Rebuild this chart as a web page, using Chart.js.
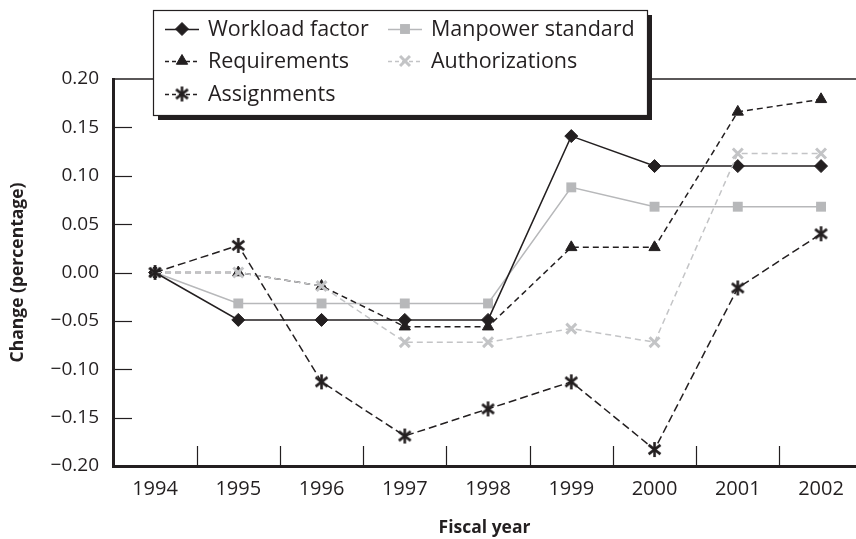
<!DOCTYPE html>
<html><head><meta charset="utf-8">
<script src="https://cdn.jsdelivr.net/npm/chart.js@4/dist/chart.umd.min.js"></script>
<style>html,body{margin:0;padding:0;background:#fff;overflow:hidden}canvas{display:block}</style>
</head><body>
<canvas id="c" width="856" height="539"></canvas>
<script>
const years = [1994, 1995, 1996, 1997, 1998, 1999, 2000, 2001, 2002];
const workloadFactor   = [0, -0.049, -0.049, -0.049, -0.049, 0.141, 0.110, 0.110, 0.110];
const manpowerStandard = [0, -0.032, -0.032, -0.032, -0.032, 0.088, 0.068, 0.068, 0.068];
const requirements     = [0, 0.000, -0.014, -0.056, -0.056, 0.026, 0.026, 0.166, 0.179];
const authorizations   = [0, 0.000, -0.014, -0.072, -0.072, -0.058, -0.072, 0.123, 0.123];
const assignments      = [0, 0.028, -0.113, -0.169, -0.141, -0.113, -0.183, -0.016, 0.040];
const yTicks = [-0.20, -0.15, -0.10, -0.05, 0.00, 0.05, 0.10, 0.15, 0.20];
const seriesNames = ['Workload factor', 'Manpower standard', 'Requirements', 'Authorizations', 'Assignments'];

const INK = '#231f20';
const GRAY = '#b7b8ba';
const LGRAY = '#c3c4c6';
const FONT = '"Open Sans", "Noto Sans", sans-serif';

// six-armed asterisk marker used as a Chart.js point style image
function makeAsterisk() {
  const c = document.createElement('canvas');
  c.width = 17; c.height = 17;
  const g = c.getContext('2d');
  g.strokeStyle = INK; g.lineWidth = 2.6; g.lineCap = 'butt';
  const cx = 8.5, cy = 8.5, r = 7.5;
  [90, 38, 142].forEach(deg => {
    const a = deg * Math.PI / 180;
    g.beginPath();
    g.moveTo(cx - r * Math.cos(a), cy - r * Math.sin(a));
    g.lineTo(cx + r * Math.cos(a), cy + r * Math.sin(a));
    g.stroke();
  });
  return c;
}
const asteriskStyle = makeAsterisk();

const toPts = arr => arr.map((v, i) => ({x: years[i], y: v}));

const datasets = [
  {label: seriesNames[0], data: toPts(workloadFactor), borderColor: INK, backgroundColor: INK,
   borderWidth: 1.5, borderDash: [], pointStyle: 'rectRot', pointRadius: 6.5, pointBorderWidth: 1, order: 2},
  {label: seriesNames[1], data: toPts(manpowerStandard), borderColor: GRAY, backgroundColor: GRAY,
   borderWidth: 1.5, borderDash: [], pointStyle: 'rect', pointRadius: 7, pointBorderWidth: 0, order: 4},
  {label: seriesNames[2], data: toPts(requirements), borderColor: INK, backgroundColor: INK,
   borderWidth: 1.5, borderDash: [6, 4], pointStyle: 'triangle', pointRadius: 6.5, pointBorderWidth: 1, order: 3},
  {label: seriesNames[3], data: toPts(authorizations), borderColor: LGRAY, backgroundColor: LGRAY,
   borderWidth: 1.5, borderDash: [6, 4], pointStyle: 'crossRot', pointRadius: 7, pointBorderWidth: 3, order: 1},
  {label: seriesNames[4], data: toPts(assignments), borderColor: INK, backgroundColor: INK,
   borderWidth: 1.5, borderDash: [8, 4], pointStyle: asteriskStyle, pointRadius: 7, pointBorderWidth: 2.5, order: 0}
];
datasets.forEach(d => { d.pointBorderColor = d.borderColor; d.pointBackgroundColor = d.backgroundColor; d.pointHoverRadius = d.pointRadius; d.tension = 0; d.fill = false; d.clip = false; });

function drawMarker(ctx, ds, x, y) {
  ctx.save();
  ctx.setLineDash([]);
  ctx.fillStyle = ds.backgroundColor;
  ctx.strokeStyle = ds.borderColor;
  ctx.lineWidth = ds.pointBorderWidth;
  if (Chart.helpers && Chart.helpers.drawPoint) {
    Chart.helpers.drawPoint(ctx, {pointStyle: ds.pointStyle, radius: ds.pointRadius, rotation: 0, borderWidth: ds.pointBorderWidth}, x, y);
  }
  ctx.restore();
}

const framePlugin = {
  id: 'frame',
  beforeDatasetsDraw(chart) {
    const {ctx, chartArea: a, scales: {x, y}} = chart;
    ctx.save();
    ctx.strokeStyle = INK;
    ctx.lineWidth = 1.5;
    ctx.beginPath();
    ctx.moveTo(a.left, a.top); ctx.lineTo(a.right, a.top);
    ctx.stroke();
    ctx.lineWidth = 1.2;
    yTicks.forEach(v => {
      if (Math.abs(v) > 0.19) return;
      const py = Math.round(y.getPixelForValue(v)) + 0.5;
      ctx.beginPath(); ctx.moveTo(a.left, py); ctx.lineTo(a.left + 19, py); ctx.stroke();
    });
    years.forEach(yr => {
      const px = Math.round(x.getPixelForValue(yr + 0.5)) + 0.5;
      if (px > a.right) return;
      ctx.beginPath(); ctx.moveTo(px, a.bottom); ctx.lineTo(px, a.bottom - 20); ctx.stroke();
    });
    ctx.restore();
  }
};

const legendPlugin = {
  id: 'boxLegend',
  afterDraw(chart) {
    const ctx = chart.ctx;
    const bx = 153, by = 10, bw = 494, bh = 105, sh = 5;
    ctx.save();
    ctx.fillStyle = INK;
    ctx.fillRect(bx + sh, by + sh, bw, bh);
    ctx.fillStyle = '#fff';
    ctx.fillRect(bx, by, bw, bh);
    ctx.strokeStyle = INK;
    ctx.lineWidth = 1.2;
    ctx.strokeRect(bx + 0.5, by + 0.5, bw, bh);
    const layout = [
      {i: 0, col: 0, row: 0}, {i: 1, col: 1, row: 0},
      {i: 2, col: 0, row: 1}, {i: 3, col: 1, row: 1},
      {i: 4, col: 0, row: 2}
    ];
    const colX = [165, 388];
    const rowY = [29, 61, 94];
    ctx.font = '21.5px ' + FONT;
    ctx.textBaseline = 'middle';
    ctx.textAlign = 'left';
    layout.forEach(({i, col, row}) => {
      const ds = datasets[i];
      const x0 = colX[col], yy = rowY[row];
      ctx.save();
      ctx.strokeStyle = ds.borderColor;
      ctx.lineWidth = ds.borderWidth;
      ctx.setLineDash(ds.borderDash.length ? [4, 3] : []);
      ctx.beginPath(); ctx.moveTo(x0, yy + 0.5); ctx.lineTo(x0 + 34, yy + 0.5); ctx.stroke();
      ctx.restore();
      drawMarker(ctx, ds, x0 + 17, yy);
      ctx.fillStyle = INK;
      ctx.fillText(ds.label, x0 + 43, yy + 1);
    });
    ctx.restore();
  }
};

new Chart(document.getElementById('c'), {
  type: 'line',
  data: {datasets},
  options: {
    responsive: false,
    animation: false,
    events: [],
    layout: {autoPadding: false, padding: {top: 79, right: 0, left: 0, bottom: 0}},
    plugins: {legend: {display: false}, tooltip: {enabled: false}},
    scales: {
      x: {
        type: 'linear',
        min: 1993.495,
        max: 2002.42,
        afterBuildTicks: s => { s.ticks = years.map(v => ({value: v})); },
        afterFit: s => { s.height = 73; s.paddingLeft = 0; s.paddingRight = 0; },
        grid: {display: false, drawTicks: false},
        border: {display: true, width: 3, color: INK},
        ticks: {callback: v => String(v), color: INK, font: {family: FONT, size: 20}, padding: 11, maxRotation: 0, autoSkip: false},
        title: {display: true, text: 'Fiscal year', color: INK, font: {family: FONT, size: 17.5, weight: 'bold'}, padding: {top: 0, bottom: 0}}
      },
      y: {
        min: -0.2,
        max: 0.2,
        afterBuildTicks: s => { s.ticks = yTicks.map(v => ({value: v})); },
        afterFit: s => { s.width = 113; s.paddingTop = 0; s.paddingBottom = 0; },
        grid: {display: false, drawTicks: false},
        border: {display: true, width: 3, color: INK},
        ticks: {callback: v => (v < -1e-9 ? '\u2212' : '') + Math.abs(v).toFixed(2), color: INK, font: {family: FONT, size: 19}, padding: 14},
        title: {display: true, text: 'Change (percentage)', color: INK, font: {family: FONT, size: 17.5, weight: 'bold'}, padding: {top: 8, bottom: 0}}
      }
    }
  },
  plugins: [framePlugin, legendPlugin]
});
</script>
</body></html>
